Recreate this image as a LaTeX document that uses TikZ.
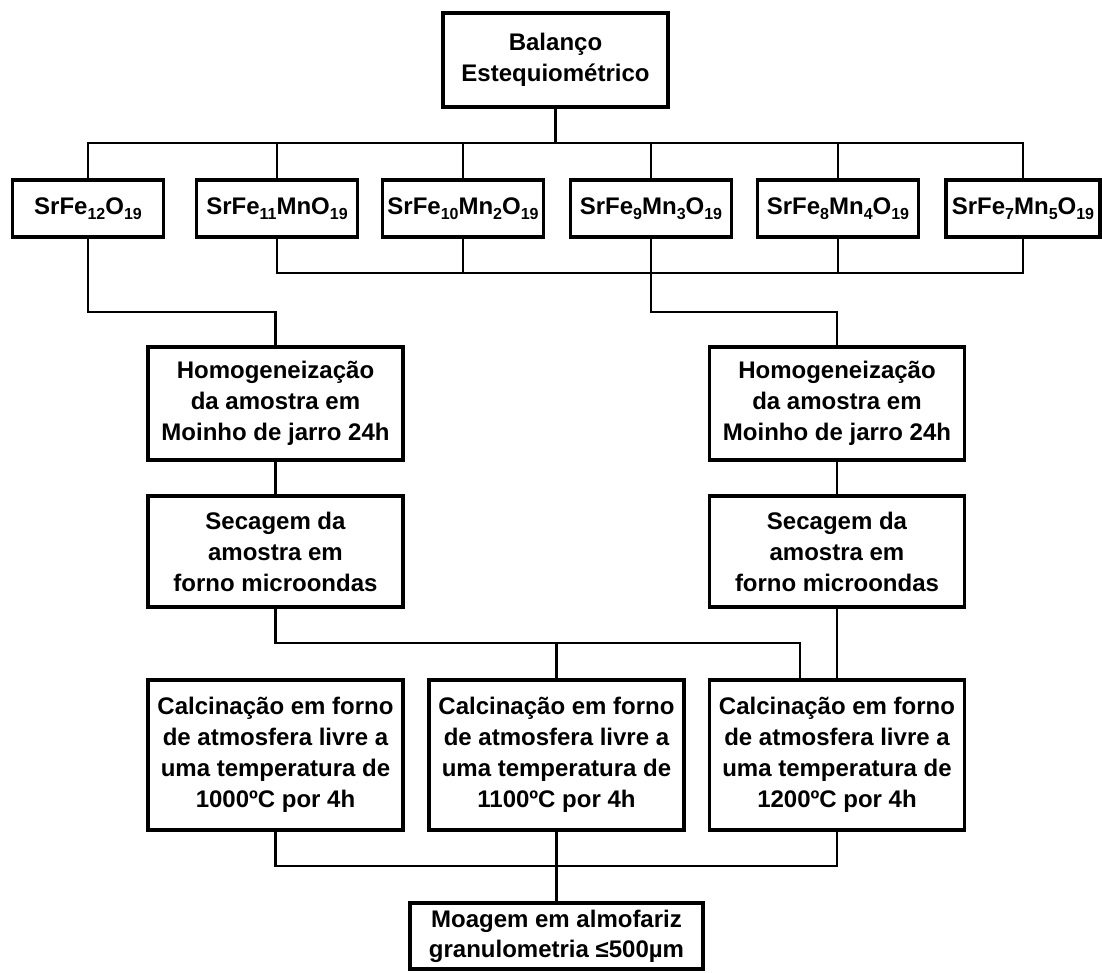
\documentclass[tikz,border=0pt]{standalone}
\usepackage{fontspec}
\setmainfont{Liberation Sans}
\newcommand\sbs[1]{\raisebox{-5pt}{\fontsize{16}{16}\selectfont #1}}
\begin{document}
\begin{tikzpicture}[x=1pt,y=-1pt,
  box/.style={draw, line width=3.4pt, inner sep=0pt, align=center,
    font=\bfseries\fontsize{24}{31}\selectfont},
  conn/.style={line width=2.8pt}]
\fill[white] (0,0) rectangle (1102,972);
\useasboundingbox (0,0) rectangle (1102,972);
% top
\node[box, minimum width=225pt, minimum height=94pt] (top) at (555.5,60) {Balanço\\Estequiométrico};
% formulas
\tikzset{fbox/.style={box, minimum height=57pt}}
\node[fbox, minimum width=151pt] (f1) at (88,208.5) {SrFe\sbs{12}O\sbs{19}};
\node[fbox, minimum width=161pt] (f2) at (277,208.5) {SrFe\sbs{11}MnO\sbs{19}};
\node[fbox, minimum width=161pt] (f3) at (463,208.5) {SrFe\sbs{10}Mn\sbs{2}O\sbs{19}};
\node[fbox, minimum width=161pt] (f4) at (651,208.5) {SrFe\sbs{9}Mn\sbs{3}O\sbs{19}};
\node[fbox, minimum width=161pt] (f5) at (838,208.5) {SrFe\sbs{8}Mn\sbs{4}O\sbs{19}};
\node[fbox, minimum width=154pt] (f6) at (1023,208.5) {SrFe\sbs{7}Mn\sbs{5}O\sbs{19}};
% homogenization
\tikzset{pbox/.style={box, minimum width=255pt}}
\node[pbox, minimum height=113pt] (h1) at (275.5,403.5) {Homogeneização\\da amostra em\\Moinho de jarro 24h};
\node[pbox, minimum height=113pt] (h2) at (837,403.5) {Homogeneização\\da amostra em\\Moinho de jarro 24h};
\node[pbox, minimum height=111pt] (s1) at (275.5,551.5) {Secagem da\\amostra em\\forno microondas};
\node[pbox, minimum height=111pt] (s2) at (837,551.5) {Secagem da\\amostra em\\forno microondas};
% calcination
\node[pbox, minimum height=150pt] (c1) at (275.5,755) {Calcinação em forno\\de atmosfera livre a\\uma temperatura de\\1000ºC por 4h};
\node[pbox, minimum height=150pt] (c2) at (556.5,755) {Calcinação em forno\\de atmosfera livre a\\uma temperatura de\\1100ºC por 4h};
\node[pbox, minimum height=150pt] (c3) at (837,755) {Calcinação em forno\\de atmosfera livre a\\uma temperatura de\\1200ºC por 4h};
% milling
\node[box, minimum width=293pt, minimum height=66pt, font=\bfseries\fontsize{24}{30}\selectfont] (m) at (556.5,936) {Moagem em almofariz\\granulometria ≤500µm};
% connectors
\coordinate (b1) at (555.5,143);
\draw[conn] (top.south) -- (b1);
\draw[conn] (f1.north) |- (b1) -| (f6.north);
\foreach \f in {f2,f3,f4,f5} \draw[conn] (\f.north) -- (\f.north |- b1);
\coordinate (b2) at (651,273);
\draw[conn] (f2.south) |- (b2) -| (f6.south);
\foreach \f in {f3,f4,f5} \draw[conn] (\f.south) -- (\f.south |- b2);
\coordinate (b3) at (651,312);
\draw[conn] (f1.south) |- (b3 -| h1.north) -- (h1.north);
\draw[conn] (b2) -- (b3) -| (h2.north);
\draw[conn] (h1.south) -- (s1.north);
\draw[conn] (h2.south) -- (s2.north);
\coordinate (b4) at (556.5,643);
\coordinate (c3in) at ([xshift=-37pt]c3.north);
\draw[conn] (s1.south) |- (b4) -| (c3in);
\draw[conn] (b4) -- (c2.north);
\draw[conn] (s2.south) -- (c3.north);
\coordinate (b5) at (556.5,866);
\draw[conn] (c1.south) |- (b5) -| (c3.south);
\draw[conn] (c2.south) -- (m.north);
\end{tikzpicture}
\end{document}
